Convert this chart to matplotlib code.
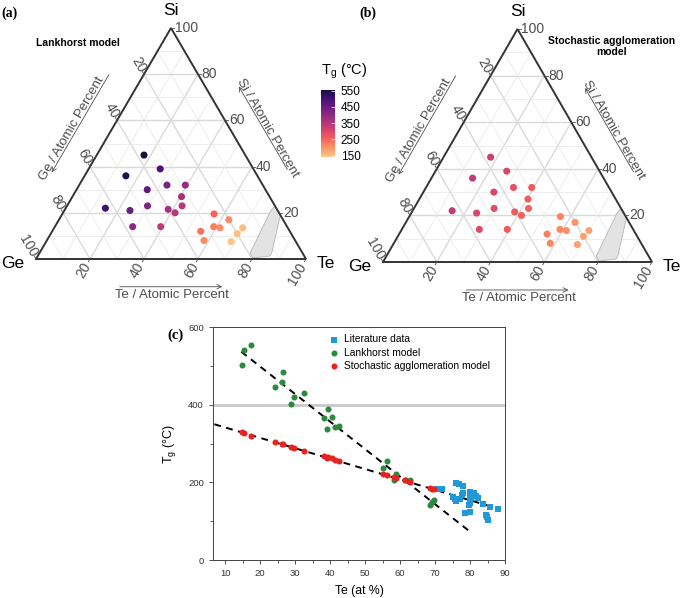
import numpy as np
import matplotlib
matplotlib.use('Agg')
import matplotlib.pyplot as plt
from matplotlib.colors import ListedColormap, Normalize
from matplotlib.cm import ScalarMappable
from matplotlib.patches import Polygon

plt.rcParams['font.family'] = ['Liberation Sans', 'DejaVu Sans']
plt.rcParams['mathtext.default'] = 'regular'

# compositions (at %), same set for both models
te = [17.5, 26.5, 15.3, 32.5, 39.3, 26.2, 40.4, 42.6, 14.7, 24.3, 29.8, 38.2,
      41.5, 28.8, 39.2, 56.2, 62.9, 58.8, 61.4, 69.8, 55.0, 69.0, 58.2, 68.5]
si = [45.0, 39.0, 36.0, 32.0, 32.0, 30.0, 27.0, 23.0, 22.0, 21.0, 23.0, 21.5,
      20.0, 14.0, 14.0, 19.5, 17.0, 14.0, 13.5, 13.5, 12.0, 11.0, 8.0, 7.5]
tg_lankhorst = [554, 486, 541, 430, 389, 460, 370, 346, 503, 447, 421, 367,
                344, 401, 339, 254, 207, 223, 205, 155, 238, 150, 206, 142]
tg_stochastic = [321, 298, 328, 282, 265, 299, 262, 255, 329, 304, 289, 267,
                 259, 292, 264, 218, 200, 211, 205, 182, 221, 184, 213, 185]

# literature data
lit_te = [70.5, 72.0, 75.0, 75.6, 76.0, 76.9, 78.0, 76.0, 77.2, 77.6, 77.9, 80.0, 80.0, 80.2,
          80.0, 79.6, 81.0, 81.7, 82.4, 83.8, 85.8, 88.0, 78.6, 80.0, 84.5, 84.8, 85.0]
lit_tg = [183, 182, 163, 157, 198, 196, 190, 153, 156, 167, 172, 176, 168, 160,
          148, 141, 172, 166, 159, 145, 137, 132, 121, 125, 116, 110, 102]

# dashed trend lines
fit_lank_te = [14.6, 80.0]
fit_lank_tg = [537, 73]
fit_stoch_te = [6.9, 88.6]
fit_stoch_tg = [350, 131]

# grey region in the ternaries (Te, Si)
region_te = [78, 80, 86, 86, 81, 77, 76.5]
region_si = [2.6, 0.4, 1.3, 2.6, 19, 23, 21]

pct_ticks = [20, 40, 60, 80, 100]
tg_ticks = [150, 250, 350, 450, 550]

H = np.sqrt(3) / 2
cmap = ListedColormap(plt.cm.magma(np.linspace(0.88, 0.12, 256)))
norm = Normalize(141, 555)
GREY = '#4d4d4d'


def tern(t, s):
    t = np.asarray(t, dtype=float) / 100
    s = np.asarray(s, dtype=float) / 100
    return t + s / 2, s * H


def along(edge, p, off):
    # point on a triangle edge (fraction p) pushed outward by off
    if edge == 'left':
        return 0.5 * p - 0.866 * off, H * p + 0.5 * off
    return 1 - 0.5 * p + 0.866 * off, H * p + 0.5 * off


def draw_ternary(ax, tg):
    for v in range(10, 100, 10):
        major = v % 20 == 0
        c = '#dadada' if major else '#ebebeb'
        lw = 1.0 if major else 0.6
        for a, b in [((0, v), (100 - v, v)), ((v, 0), (v, 100 - v)), ((100 - v, 0), (0, 100 - v))]:
            x, y = tern([a[0], b[0]], [a[1], b[1]])
            ax.plot(x, y, color=c, lw=lw, zorder=1)

    rx, ry = tern(region_te, region_si)
    ax.add_patch(Polygon(np.column_stack([rx, ry]), closed=True, fc='#e3e3e3',
                         ec='#b5b5b5', lw=0.6, zorder=2))

    x, y = tern([0, 100, 0, 0], [0, 0, 100, 0])
    ax.plot(x, y, color='#333333', lw=1.4, zorder=3, solid_joinstyle='miter')

    px, py = tern(te, si)
    ax.scatter(px, py, c=tg, cmap=cmap, norm=norm, s=26, lw=0, zorder=4)

    tk = dict(color=GREY, fontsize=10)
    for v in pct_ticks:
        # Si, right side
        x, y = tern(100 - v, v)
        ax.plot([x, x + 0.012], [y, y], color=GREY, lw=0.6, zorder=3)
        ax.text(x + 0.014, y, str(v), ha='left', va='center', **tk)
        # Ge, left side
        x, y = tern(0, 100 - v)
        ax.plot([x, x - 0.006], [y, y + 0.0104], color=GREY, lw=0.6, zorder=3)
        ax.text(x - 0.006, y + 0.011, str(v), ha='right', va='center', rotation=-60,
                rotation_mode='anchor', **tk)
        # Te, bottom
        x, y = tern(v, 0)
        ax.plot([x, x - 0.006], [y, y - 0.0104], color=GREY, lw=0.6, zorder=3)
        ax.text(x - 0.01, y - 0.018, str(v), ha='right', va='center', rotation=60,
                rotation_mode='anchor', **tk)

    ax.text(0.5, H + 0.065, 'Si', ha='center', va='center', fontsize=12.5)
    ax.text(-0.085, -0.018, 'Ge', ha='center', va='center', fontsize=12.5)
    ax.text(1.075, -0.018, 'Te', ha='center', va='center', fontsize=12.5)

    at = dict(color=GREY, fontsize=9.5, ha='center', va='center')
    ap = dict(arrowstyle='->', color=GREY, lw=0.6, mutation_scale=8)
    ax.text(0.504, -0.135, 'Te / Atomic Percent', **at)
    ax.annotate('', xy=(0.70, -0.104), xytext=(0.30, -0.104), arrowprops=ap)
    cx, cy = along('left', 0.49, 0.13)
    ax.text(cx, cy, 'Ge / Atomic Percent', rotation=60, **at)
    ax.annotate('', xy=along('left', 0.30, 0.112), xytext=along('left', 0.745, 0.112), arrowprops=ap)
    cx, cy = along('right', 0.497, 0.122)
    ax.text(cx, cy, 'Si / Atomic Percent', rotation=-60, **at)
    ax.annotate('', xy=along('right', 0.695, 0.108), xytext=along('right', 0.315, 0.108), arrowprops=ap)
    ax.axis('off')


def main():
    fig = plt.figure(figsize=(6.85, 5.98), dpi=100)

    axa = fig.add_axes([0, 1 - 300 / 598, 340 / 685, 300 / 598])
    axa.set_xlim(-36 / 270, 304 / 270)
    axa.set_ylim(-41 / 266.7, 259 / 266.7)
    draw_ternary(axa, tg_lankhorst)
    axa.text(-0.127, 0.922, '(a)', fontsize=10, fontweight='bold',
             family=['Liberation Serif', 'DejaVu Serif'], va='center')
    axa.text(0.0, 0.81, 'Lankhorst model', fontsize=7.5, fontweight='bold', va='center')
    axa.text(1.057, 0.705, 'T$_g$ (°C)', fontsize=10.5, va='center', ha='left')

    axb = fig.add_axes([340 / 685, 1 - 300 / 598, 345 / 685, 300 / 598])
    axb.set_xlim(-43 / 269, 302 / 269)
    axb.set_ylim(-38 / 269, 262 / 269)
    draw_ternary(axb, tg_stochastic)
    axb.text(-0.086, 0.926, '(b)', fontsize=10, fontweight='bold',
             family=['Liberation Serif', 'DejaVu Serif'], va='center')
    axb.text(0.848, 0.80, 'Stochastic agglomeration\nmodel', fontsize=7.5,
             fontweight='bold', ha='center', va='center', linespacing=1.15)

    cax = fig.add_axes([321 / 685, 1 - 157 / 598, 14 / 685, 67 / 598])
    cb = fig.colorbar(ScalarMappable(norm=norm, cmap=cmap), cax=cax, ticks=tg_ticks)
    cb.outline.set_visible(False)
    cax.tick_params(length=3, width=0.5, color='white', direction='in', labelsize=8.5, pad=4)

    # panel (c)
    ax = fig.add_axes([213 / 685, 38 / 598, 292 / 685, 232.7 / 598])
    ax.axhline(400, color='#c8c8c8', lw=2, zorder=1)
    ax.plot(fit_lank_te, fit_lank_tg, color='black', lw=1.4, ls=(0, (3.5, 2.8)), zorder=2)
    ax.plot(fit_stoch_te, fit_stoch_tg, color='black', lw=1.4, ls=(0, (3.5, 2.8)), zorder=2)
    ax.scatter(lit_te, lit_tg, marker='s', s=14, color='#2199d6', lw=0, zorder=3,
               label='Literature data')
    ax.scatter(te, tg_lankhorst, s=19, color='#2b8a40', lw=0, zorder=3, label='Lankhorst model')
    ax.scatter(te, tg_stochastic, s=19, color='#e8231f', lw=0, zorder=4,
               label='Stochastic agglomeration model')
    ax.set_xlim(6.5, 90)
    ax.set_ylim(0, 600)
    ax.set_xticks(range(10, 91, 10))
    ax.set_xticks(range(10, 91, 5), minor=True)
    ax.set_yticks([0, 200, 400, 600])
    ax.set_yticks([100, 300, 500], minor=True)
    ax.tick_params(which='both', direction='out', labelsize=6.8, width=0.6, colors='#333333')
    ax.tick_params(which='major', length=3)
    ax.tick_params(which='minor', length=2)
    for sp in ax.spines.values():
        sp.set_linewidth(0.7)
        sp.set_color('#444444')
    ax.set_xlabel('Te (at %)', fontsize=8.8, labelpad=5)
    ax.set_ylabel('T$_g$ (°C)', fontsize=9, labelpad=7)
    ax.legend(loc='upper left', bbox_to_anchor=(0.37, 1.0), frameon=False, fontsize=7.4,
              handletextpad=0.3, labelspacing=0.3, borderaxespad=0.3, handlelength=1.2,
              scatterpoints=1)
    fig.text(167 / 685, 1 - 335 / 598, '(c)', fontsize=10.5, fontweight='bold',
             family=['Liberation Serif', 'DejaVu Serif'], va='center')

    fig.savefig('out.png', dpi=100)


if __name__ == '__main__':
    main()
